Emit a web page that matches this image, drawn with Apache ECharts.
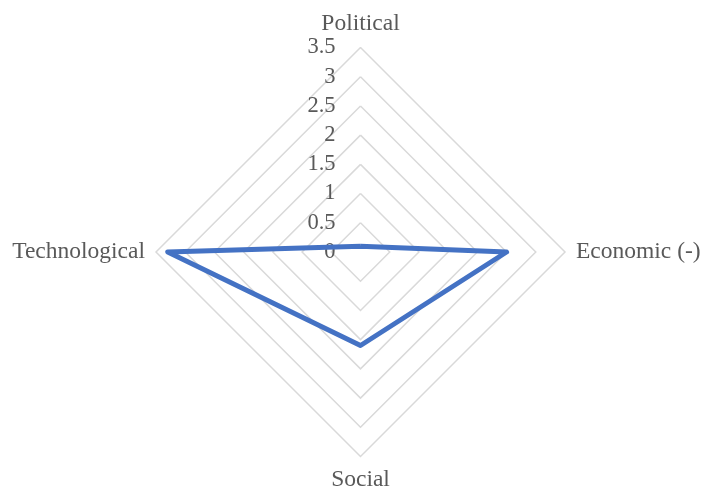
<!DOCTYPE html>
<html>
<head>
<meta charset="utf-8">
<script src="https://cdn.jsdelivr.net/npm/echarts@6/dist/echarts.min.js"></script>
<style>
  html, body { margin: 0; padding: 0; background: #fff; }
  #chart { width: 703px; height: 491px; }
</style>
</head>
<body>
<div id="chart"></div>
<script>
// radar goes counter-clockwise from the top
const indicators = ['Political', 'Technological', 'Social', 'Economic (-)'];
const values = [0.1, 3.3, 1.6, 2.5];
const axisMax = 3.5;

const font = "'Liberation Serif', 'Times New Roman', serif";
const grey = '#595959';

const chart = echarts.init(document.getElementById('chart'));
chart.setOption({
    animation: false,
    radar: {
        center: [360.5, 252],
        radius: 204.5,
        startAngle: 90,
        shape: 'polygon',
        splitNumber: 7,
        indicator: indicators.map((n, i) => ({
            name: n,
            min: 0,
            max: axisMax,
            // only the top axis carries the value labels
            axisLabel: i === 0 ? { show: true } : undefined
        })),
        axisName: {
            color: grey,
            fontFamily: font,
            fontSize: 23.5
        },
        nameGap: 11,
        axisLine: { show: false },
        axisTick: { show: false },
        axisLabel: {
            show: false,
            color: grey,
            fontFamily: font,
            fontSize: 22.5,
            margin: 25
        },
        splitLine: {
            lineStyle: { color: '#d9d9d9', width: 1.5 }
        },
        splitArea: { show: false }
    },
    series: [{
        type: 'radar',
        symbol: 'none',
        lineStyle: { color: '#4472C4', width: 5, join: 'round' },
        data: [{ value: values }]
    }]
});
</script>
</body>
</html>
